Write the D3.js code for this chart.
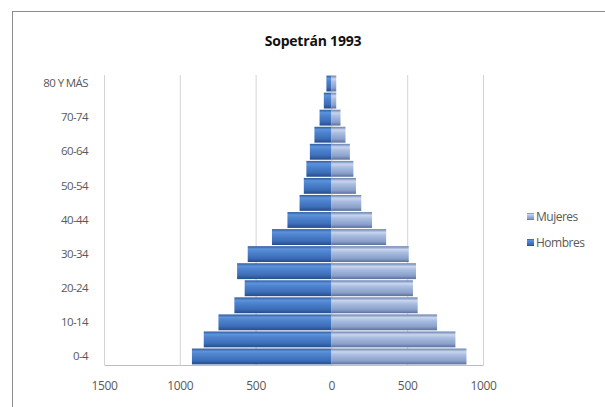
<!DOCTYPE html>
<html><head><meta charset="utf-8">
<script src="https://cdn.jsdelivr.net/npm/d3@7"></script>
<style>body{margin:0;background:#fff}svg{display:block}</style>
</head><body>
<script>
const title = "Sopetrán 1993";
const categories = ["0-4","5-9","10-14","15-19","20-24","25-29","30-34","35-39","40-44","45-49","50-54","55-59","60-64","65-69","70-74","75-79","80 Y MÁS"];
const hombres = [920,842,745,640,572,622,552,392,290,210,182,165,142,112,78,50,33];
const mujeres = [891,818,697,569,538,558,510,361,268,197,162,145,122,93,60,32,32];
const xTicks = [-1500,-1000,-500,0,500,1000];
const seriesNames = ["Mujeres","Hombres"];

const W=605,H=407;
const svg=d3.select("body").append("svg").attr("width",W).attr("height",H);
const defs=svg.append("defs");
function grad(id,stops){
  const g=defs.append("linearGradient").attr("id",id).attr("x1",0).attr("y1",0).attr("x2",0).attr("y2",1);
  stops.forEach(s=>g.append("stop").attr("offset",s[0]).attr("stop-color",s[1]));
}
grad("gH",[[0,"#2f5b9c"],[0.18,"#5d92dc"],[0.35,"#4f84cf"],[0.75,"#3c6db8"],[1,"#254c88"]]);
grad("gM",[[0,"#687fae"],[0.2,"#c8d5ee"],[0.4,"#aabde0"],[0.78,"#8aa0ca"],[1,"#5a6f9c"]]);

svg.append("rect").attr("x",12.5).attr("y",11.5).attr("width",W).attr("height",H)
  .attr("fill","#fff").attr("stroke","#8c8c8c");

const x=d3.scaleLinear().domain([-1500,1000]).range([104,483]);
const y=d3.scaleBand().domain(categories.slice().reverse()).range([75,365]).paddingInner(0.07).paddingOuter(0.035);

// gridlines
svg.append("g").selectAll("line").data(xTicks).join("line")
  .attr("x1",d=>x(d)+0.5).attr("x2",d=>x(d)+0.5).attr("y1",75).attr("y2",365)
  .attr("stroke","#d4d4d4");

// bars
svg.append("g").selectAll("rect").data(categories).join("rect")
  .attr("x",(d,i)=>x(-hombres[i])).attr("width",(d,i)=>x(0)-x(-hombres[i]))
  .attr("y",d=>y(d)).attr("height",y.bandwidth()).attr("fill","url(#gH)");
svg.append("g").selectAll("rect").data(categories).join("rect")
  .attr("x",x(0)).attr("width",(d,i)=>x(mujeres[i])-x(0))
  .attr("y",d=>y(d)).attr("height",y.bandwidth()).attr("fill","url(#gM)");

// x axis
const xa=svg.append("g").attr("transform","translate(0,365)")
  .call(d3.axisBottom(x).tickValues(xTicks).tickSize(0).tickPadding(16).tickFormat(d=>Math.abs(d)));
xa.select(".domain").attr("stroke","#bfbfbf");
xa.selectAll("text").attr("font-family","Open Sans, sans-serif").attr("font-size",12).attr("fill","#595959").attr("letter-spacing","-0.3");

// y axis
const ya=svg.append("g").attr("transform","translate(104,0)")
  .call(d3.axisLeft(y).tickValues(categories.filter((d,i)=>i%2===0)).tickSize(0).tickPadding(16));
ya.select(".domain").remove();
ya.selectAll("text").attr("font-family","Open Sans, sans-serif").attr("font-size",11.5).attr("fill","#595959").attr("letter-spacing","-0.6");

// title
svg.append("text").attr("x",313).attr("y",46).attr("text-anchor","middle")
  .attr("font-family","Open Sans, sans-serif").attr("font-weight","bold").attr("font-size",14).attr("fill","#111")
  .attr("letter-spacing","-0.2")
  .text(title);

// legend
const lg=svg.append("g").selectAll("g").data(seriesNames).join("g")
  .attr("transform",(d,i)=>`translate(527,${217+i*26})`);
lg.append("rect").attr("x",0).attr("y",-4).attr("width",7).attr("height",7)
  .attr("fill",(d,i)=>i===0?"url(#gM)":"url(#gH)");
lg.append("text").attr("x",9).attr("y",0).attr("dy","0.35em")
  .attr("font-family","Open Sans, sans-serif").attr("font-size",12).attr("fill","#595959").attr("letter-spacing","-0.5")
  .text(d=>d);
</script>
</body></html>
